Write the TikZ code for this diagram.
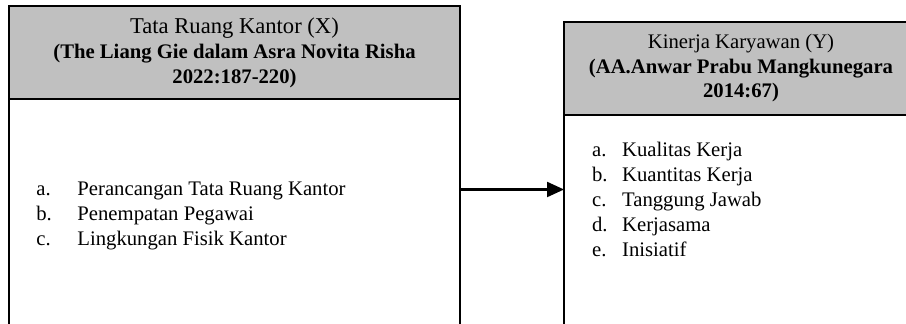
\documentclass[tikz,border=0pt]{standalone}
\usepackage{fontspec}
\setmainfont{Liberation Serif}
\usetikzlibrary{arrows.meta,positioning}
\definecolor{hdrGray}{HTML}{C0C0C0}

\begin{document}
\begin{tikzpicture}[x=0.5pt,y=0.5pt,
  hdr/.style={draw,line width=1pt,fill=hdrGray,outer sep=0pt,inner sep=0pt,align=center,minimum height=46.5pt,anchor=north west},
  body/.style={draw,line width=1pt,fill=white,outer sep=0pt,inner sep=0pt},
  list/.style={inner sep=0pt,anchor=west,font=\fontsize{10.35}{12.5}\selectfont}]
\useasboundingbox (0,0) rectangle (906,324);
\clip (0,0) rectangle (906,324);
% variabel X
\node[hdr,minimum width=225.5pt,font=\fontsize{10.35}{12.5}\selectfont] (xhead) at (9,318)
  {{\fontsize{11.3}{12.5}\selectfont Tata Ruang Kantor (X)}\\\textbf{(The Liang Gie dalam Asra Novita Risha}\\\textbf{2022:187-220)}};
\node[body,minimum width=225.5pt,minimum height=117.5pt,below=0pt of xhead] (xbody) {};
\node[list] (xlist) at (36,108) {\begin{tabular}{@{}l@{\hspace{12.75pt}}l@{}}
  a. & Perancangan Tata Ruang Kantor\\
  b. & Penempatan Pegawai\\
  c. & Lingkungan Fisik Kantor
\end{tabular}};
% variabel Y
\node[hdr,minimum width=177pt,font=\fontsize{10.35}{12.25}\selectfont] (yhead) at (564,302)
  {Kinerja Karyawan (Y)\\\textbf{(AA.Anwar Prabu Mangkunegara}\\\textbf{2014:67)}};
\node[body,minimum width=177pt,minimum height=109.5pt,below=0pt of yhead] (ybody) {};
\node[list] (ylist) at (591.7,122) {\begin{tabular}{@{}l@{\hspace{7.25pt}}l@{}}
  a. & Kualitas Kerja\\
  b. & Kuantitas Kerja\\
  c. & Tanggung Jawab\\
  d. & Kerjasama\\
  e. & Inisiatif
\end{tabular}};
% panah X -> Y
\coordinate (arr) at (0,134.5);
\draw[line width=1.1pt,-{Triangle[length=8.5pt,width=7.5pt]}] (xbody.east |- arr) -- (ybody.west |- arr);
\end{tikzpicture}
\end{document}
